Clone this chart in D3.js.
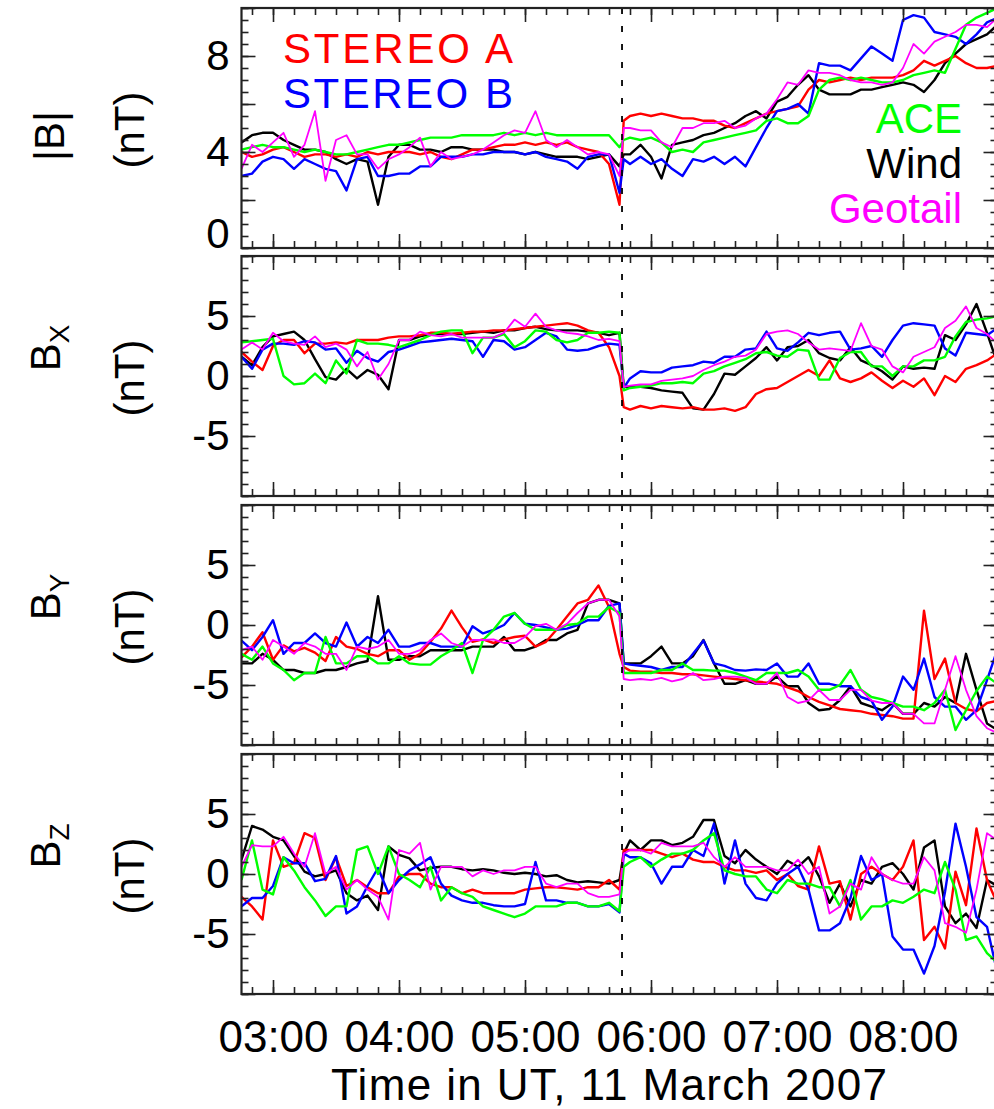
<!DOCTYPE html>
<html><head><meta charset="utf-8">
<script src="https://cdn.jsdelivr.net/npm/d3@7"></script>
<style>
body{margin:0;background:#fff}
svg{display:block}
text{font-family:"Liberation Sans",Arial,Helvetica,sans-serif}
</style>
</head><body>
<svg id="chart" width="994" height="1109"></svg>
<script>
// ---- sample times (minutes after 00:00 UT, 11 March 2007) ----
const timeMin = [
165,170,175,180,185,190,195,200,205,210,215,220,
225,230,235,240,245,250,255,260,265,270,275,280,
285,290,295,300,305,310,315,320,325,330,335,340,
345,347,
350,355,360,365,370,375,380,385,390,395,400,405,
410,415,420,425,430,435,440,445,450,455,460,465,
470,475,480,485,490,495,500,505,510,515,520,525];

const shockMin = 346.2;
const craftNames = ["STEREO A","STEREO B","ACE","Wind","Geotail"];
const craftColors = ["#ff0000","#0000ff","#00ff00","#000000","#ff00ff"];
const xTickHours = ["03:00","04:00","05:00","06:00","07:00","08:00"];

// ---- |B| (nT) ----
const bStA = [
4.0,3.8,3.9,4.1,4.2,4.0,3.8,3.9,3.9,3.8,3.9,3.8,
4.0,3.9,4.0,4.0,4.0,3.9,4.0,3.8,3.7,3.9,4.1,4.1,
4.2,4.3,4.3,4.4,4.3,4.4,4.3,4.4,4.2,4.1,4.0,3.5,
1.8,5.3,
5.5,5.6,5.5,5.6,5.5,5.4,5.4,5.3,5.3,5.1,5.0,5.2,
5.4,5.6,5.7,5.8,5.9,6.6,7.0,6.9,7.0,7.1,7.0,7.1,
7.1,7.1,7.2,7.4,7.8,7.6,7.8,8.0,7.7,7.5,7.5,7.6];
const bStB = [
3.0,3.1,3.6,3.8,3.7,3.3,3.7,3.5,3.3,3.2,2.4,3.7,
3.8,3.0,3.0,3.1,3.1,3.4,3.4,3.8,3.8,3.8,3.9,3.9,
4.0,4.0,4.0,3.9,4.0,3.8,3.7,3.6,3.3,3.8,3.9,3.9,
2.3,3.7,
3.5,3.8,3.5,3.7,3.3,3.0,3.7,3.6,3.8,3.5,3.8,3.4,
4.2,5.0,5.7,5.8,6.0,5.6,7.7,7.6,7.6,7.4,7.9,8.4,
8.1,7.8,9.5,9.7,9.6,9.0,8.9,8.8,8.5,8.9,9.4,9.6];
const bAce = [
4.1,4.2,4.3,4.2,4.2,4.1,4.0,4.1,4.0,3.9,3.9,4.0,
4.1,4.2,4.3,4.3,4.4,4.5,4.6,4.6,4.6,4.7,4.7,4.7,
4.7,4.8,4.7,4.8,4.7,4.8,4.7,4.7,4.7,4.7,4.7,4.7,
4.2,4.5,
4.6,4.5,4.6,4.4,4.0,4.1,4.0,4.4,4.5,4.6,4.7,4.8,
4.9,5.3,5.4,5.2,5.2,5.5,6.6,7.0,7.1,7.0,7.1,7.0,
6.9,6.9,7.0,7.2,7.3,7.4,7.3,8.3,9.3,9.6,9.8,10.0];
const bWind = [
4.4,4.7,4.8,4.8,4.5,4.3,4.1,4.1,4.0,3.7,3.5,3.7,
3.6,1.8,3.8,4.3,4.3,4.1,4.1,4.0,4.2,4.2,4.1,4.1,
4.1,4.0,4.0,3.9,4.0,3.9,3.8,3.8,3.8,3.7,3.8,3.9,
3.4,3.9,
3.9,4.3,3.8,2.9,4.3,4.4,4.5,4.7,4.8,5.0,5.2,5.5,
5.7,5.4,6.1,6.3,6.8,7.2,6.6,6.4,6.4,6.4,6.6,6.6,
6.7,6.8,6.9,6.8,6.5,7.0,7.7,8.1,8.5,8.7,8.9,9.3];
const bGeo = [
3.3,4.3,4.0,4.4,4.8,3.8,4.3,5.7,2.8,4.5,4.7,3.9,
3.9,3.3,3.7,3.9,4.2,4.6,3.4,4.0,3.7,3.8,3.9,4.1,
4.4,4.7,4.9,4.8,5.7,4.5,4.2,4.5,4.2,3.9,4.0,3.9,
3.0,5.0,
5.0,4.9,4.9,4.4,4.2,5.0,5.0,5.2,5.2,5.3,5.0,5.1,
5.4,5.6,6.2,6.9,6.8,7.4,7.3,7.3,7.2,7.0,6.9,6.9,
6.8,6.9,7.5,8.5,8.1,8.6,8.8,9.0,9.3,9.3,9.2,9.6];

// ---- Bx (nT) ----
const bxStA = [
2.0,1.2,0.5,2.5,3.0,3.0,1.9,2.7,2.7,2.8,2.7,3.0,
3.0,3.0,3.2,3.3,3.3,3.4,3.6,3.6,3.5,3.6,3.7,3.7,
3.8,3.8,3.9,4.0,4.1,4.2,4.3,4.4,4.2,3.8,3.6,2.4,
0.0,-2.6,
-2.8,-2.5,-2.7,-2.5,-2.6,-2.7,-2.6,-2.8,-2.8,-2.7,-2.9,-2.6,
-1.5,-1.1,-1.0,-0.5,0.0,0.5,0.0,1.3,-0.2,-0.5,-0.2,0.3,
-0.4,-1.0,-0.4,-0.9,-0.2,-1.6,0.0,-0.5,0.6,0.9,1.3,1.9];
const bxStB = [
1.6,0.6,2.2,2.7,2.7,2.6,2.9,2.8,2.2,2.3,1.1,2.1,
1.5,1.2,2.0,2.2,2.5,2.8,2.9,3.0,3.1,3.0,2.9,1.6,
3.0,2.9,2.2,2.4,3.0,3.6,3.3,2.2,2.1,2.2,2.5,2.7,
2.6,-1.0,
-0.2,0.4,0.3,0.3,0.7,0.8,0.9,1.2,1.1,1.6,1.6,2.2,
2.3,3.7,2.3,2.1,2.8,3.6,3.4,3.6,3.7,2.2,2.3,2.5,
1.6,3.0,4.2,4.4,4.3,4.2,2.3,1.7,3.6,3.5,3.4,4.0];
const bxAce = [
2.8,2.9,3.0,3.1,0.0,-0.7,-0.6,0.2,-0.6,1.3,0.2,3.0,
2.7,2.7,2.6,2.4,2.7,3.0,3.4,3.7,3.8,3.8,1.9,3.2,
3.2,3.5,2.4,2.9,3.8,3.7,3.0,2.8,3.0,3.6,3.6,3.7,
3.6,-1.2,
-1.0,-0.9,-0.8,-0.6,-0.6,-0.5,-0.6,0.2,0.4,0.8,1.1,1.4,
1.9,2.0,1.7,1.6,2.2,2.1,-0.3,-0.3,1.5,2.0,2.0,0.8,
0.8,0.0,0.8,0.8,1.3,1.3,1.6,3.3,4.5,4.7,4.8,5.0];
const bxWind = [
1.6,0.9,2.4,3.3,3.5,3.7,3.0,1.4,-0.1,-0.3,0.6,-0.2,
0.5,0.1,-1.1,3.0,3.0,3.3,3.5,3.5,3.5,3.5,3.6,3.7,
3.6,3.8,3.8,4.0,4.1,3.9,3.8,3.8,3.8,3.7,3.6,3.4,
3.6,-0.9,
-0.9,-0.9,-1.0,-1.2,-1.3,-1.4,-2.7,-2.8,-1.5,0.2,0.1,0.8,
1.5,2.4,1.3,2.4,2.5,3.0,1.9,1.5,1.3,2.4,1.3,0.9,
0.4,-0.3,0.8,0.6,0.7,0.6,3.4,3.0,4.3,6.0,3.6,1.0];
const bxGeo = [
2.2,2.8,2.2,3.6,2.9,2.7,2.6,3.3,2.4,2.7,2.2,0.8,
2.0,-0.3,1.0,3.0,3.0,3.7,3.4,3.3,3.5,3.2,3.2,3.2,
3.2,3.6,4.7,4.1,5.2,4.1,3.8,3.6,3.5,3.3,3.0,3.1,
2.9,-0.9,
-0.8,-0.7,-0.7,-0.4,-0.3,-0.2,0.0,0.5,0.9,1.2,1.6,1.7,
2.2,3.5,3.7,3.8,3.5,2.8,2.2,2.3,2.2,2.1,4.4,2.5,
2.2,0.8,0.3,1.6,2.0,2.4,4.0,4.6,5.8,4.0,3.5,2.7];

// ---- By (nT) ----
const byStA = [
-2.7,-1.8,-0.6,-2.9,-1.7,-2.2,-1.9,-2.3,-3.0,-1.0,-1.8,-2.0,
-2.4,-2.6,-2.1,-2.1,-2.9,-2.4,-1.4,-0.3,1.2,-0.2,-1.4,-1.2,
-1.5,-1.2,-1.0,-0.9,-1.8,-1.4,-0.4,0.7,1.8,2.1,3.3,1.5,
-2.4,-3.5,
-3.8,-3.9,-3.9,-4.0,-4.0,-4.1,-4.1,-4.2,-4.3,-4.4,-4.5,-4.6,
-4.7,-4.8,-4.9,-5.2,-5.5,-6.0,-6.4,-6.7,-7.0,-7.1,-7.2,-7.4,
-7.5,-7.6,-7.8,-7.8,1.2,-4.5,-2.8,-6.5,-7.0,-7.2,-6.5,-6.3];
const byStB = [
-1.3,-2.1,-1.0,0.4,-2.4,-1.5,-1.5,-0.7,-1.5,-1.8,0.2,-1.8,
-1.0,-1.5,-0.4,-1.8,-1.8,-1.5,-1.5,-1.8,-1.8,-1.8,-0.1,-0.7,
-0.4,0.0,1.0,0.1,0.0,-0.2,-0.4,-0.3,0.0,0.4,0.4,1.6,
1.8,-3.2,
-3.3,-3.4,-3.5,-3.75,-3.5,-3.5,-2.4,-1.3,-3.2,-3.4,-3.75,-3.8,
-3.7,-3.75,-3.2,-4.3,-4.3,-3.2,-4.9,-4.9,-5.1,-5.1,-6.0,-6.3,
-7.9,-6.8,-4.3,-5.4,-2.8,-6.0,-6.8,-6.8,-7.9,-7.1,-4.6,-2.0];
const byAce = [
-2.4,-2.9,-1.8,-3.2,-3.75,-4.6,-4.0,-4.0,-1.0,-3.2,-3.2,-2.6,
-2.6,-3.2,-3.2,-2.6,-3.2,-3.3,-3.3,-2.6,-2.1,-1.5,-4.0,-1.25,
-0.4,0.7,1.0,0.1,-0.4,-0.4,-0.4,0.0,0.1,0.7,0.7,1.5,
1.0,-4.0,
-4.0,-4.0,-4.0,-3.75,-3.75,-3.2,-3.75,-3.75,-3.8,-3.8,-4.0,-4.3,
-4.6,-4.0,-4.0,-4.0,-3.75,-4.3,-5.4,-5.4,-5.0,-3.75,-5.4,-6.0,
-6.2,-6.5,-6.8,-6.8,-7.1,-6.5,-5.4,-8.75,-7.1,-5.5,-4.3,-4.9];
const byWind = [
-3.2,-3.2,-2.4,-2.9,-3.75,-3.75,-4.0,-4.0,-3.75,-3.75,-3.5,-3.2,
-3.0,2.4,-2.9,-2.9,-2.6,-2.6,-2.1,-2.1,-2.1,-2.1,-1.8,-1.8,
-1.8,-1.0,-2.1,-2.1,-1.8,-1.25,-1.25,-0.7,-0.4,1.8,2.1,2.1,
1.8,-3.2,
-3.2,-3.2,-2.6,-1.8,-3.2,-3.2,-2.6,-1.25,-3.2,-4.9,-4.9,-4.6,
-4.9,-4.9,-4.3,-5.1,-5.1,-6.5,-7.1,-7.0,-6.25,-5.1,-6.5,-6.8,
-7.1,-6.5,-7.4,-7.4,-6.5,-6.8,-6.0,-6.5,-2.4,-5.4,-8.2,-8.75];
const byGeo = [
-2.1,-1.8,-2.9,-1.25,-1.8,-2.4,-1.5,-1.8,-2.4,-2.4,-3.75,-1.8,
-2.0,-1.8,-1.25,-2.4,-2.4,-2.1,-1.25,-0.7,-1.5,-1.8,-1.25,-1.25,
-1.2,-1.5,-1.5,-1.0,-0.1,0.1,-0.4,0.1,1.0,1.8,2.1,2.1,
0.7,-4.5,
-4.6,-4.5,-4.6,-4.4,-4.7,-4.5,-4.0,-4.6,-4.5,-4.3,-4.3,-4.4,
-4.9,-4.9,-4.0,-6.0,-6.5,-6.3,-5.4,-6.25,-6.25,-5.4,-5.4,-6.3,
-6.5,-6.5,-7.4,-7.4,-8.2,-8.2,-5.4,-2.6,-5.4,-7.6,-8.6,-9.0];

// ---- Bz (nT) ----
const bzStA = [
-1.9,-2.7,-3.8,2.8,0.6,0.9,3.4,3.0,-0.5,1.4,-1.0,-0.5,
-1.1,-1.6,-1.6,-0.2,0.0,0.0,-0.8,-1.1,-1.1,-1.6,-1.3,-1.6,
-1.6,-1.6,-1.6,-1.3,-1.2,-1.1,-1.1,-1.2,-1.3,-1.1,-1.1,-0.5,
-1.3,2.0,
2.0,2.0,2.0,1.7,1.4,1.7,1.2,1.0,1.0,0.6,0.3,0.3,
0.1,0.3,-0.5,0.0,-1.0,-1.3,2.3,-0.8,-0.6,-3.8,0.0,0.6,
0.0,-0.5,0.6,2.8,-5.5,-4.4,-6.2,0.2,-2.6,3.8,-0.5,-2.5];
const bzStB = [
-2.7,-2.0,-2.0,-1.0,1.4,0.9,0.9,-0.6,-0.4,1.5,-3.3,-2.7,
-1.0,0.5,-1.6,-0.5,0.3,0.8,1.4,-0.8,-1.8,-2.2,-2.4,-2.4,
-2.6,-2.7,-2.7,-2.5,1.0,-2.2,-2.2,-2.4,-2.4,-2.7,-2.7,-2.5,
-3.2,1.7,
1.4,1.4,0.9,-0.8,0.6,0.6,2.0,1.5,4.2,-0.8,2.8,-0.8,
-2.0,-2.2,-0.8,0.0,0.6,-1.3,-4.7,-4.7,-4.1,-2.0,1.5,-0.5,
0.0,-5.2,-6.3,-6.3,-8.3,-6.0,-1.5,4.2,0.6,-3.6,-4.4,-8.3];
const bzAce = [
-0.5,2.8,-1.3,-1.7,1.4,0.3,-1.1,-2.2,-3.5,-2.7,-2.7,2.0,
2.3,0.0,2.3,0.0,-0.5,-1.1,0.6,-2.2,-1.1,-1.6,-1.9,-2.7,
-3.0,-3.3,-3.6,-3.3,-2.7,-2.7,-2.7,-2.4,-2.4,-2.7,-2.7,-2.4,
-3.1,0.6,
1.0,1.4,0.6,1.2,1.7,1.7,2.0,2.8,3.4,0.3,0.0,-0.2,
-0.2,-1.3,-1.6,-0.5,-0.8,-0.8,-1.1,-1.1,-2.7,-0.5,-3.8,-2.7,
-2.7,-2.2,-2.4,-1.9,-1.3,-1.6,1.0,-1.3,-5.5,-5.2,-6.6,-7.4];
const bzWind = [
1.2,4.0,3.7,3.1,2.8,1.5,0.2,-0.2,0.0,0.3,-1.6,-2.2,
-1.8,-3.0,2.3,1.6,1.3,0.3,0.5,0.6,0.6,0.4,0.3,0.4,
0.3,0.1,0.0,0.1,0.0,-0.2,-0.1,-0.5,-0.7,-0.6,-0.7,-0.8,
-0.5,1.7,
2.8,2.0,2.8,2.8,2.4,2.6,3.1,4.5,4.5,1.5,0.9,2.0,
1.2,0.6,0.0,1.1,0.6,1.4,-0.2,-2.4,-0.8,-2.7,-0.5,-0.8,
0.6,0.9,0.0,-1.3,2.2,2.8,-2.7,-4.1,-3.3,-4.5,-0.5,-1.0];
const bzGeo = [
0.6,2.4,2.3,2.3,3.1,1.7,0.6,3.4,0.0,0.6,-1.3,-0.5,
-1.3,-1.9,-3.8,2.0,1.7,2.6,-1.3,0.6,0.6,0.6,-0.2,0.3,
0.0,0.3,0.3,0.6,0.6,-0.8,-1.1,-0.8,-0.8,-1.6,-1.9,-1.9,
-1.7,1.7,
2.0,2.0,1.7,2.6,2.3,2.3,2.3,2.6,1.4,0.6,1.4,0.6,
0.6,0.6,0.3,0.3,1.2,0.0,0.6,-3.3,-2.7,-0.8,-1.3,1.4,
0.0,-0.5,-0.8,-0.8,1.4,0.3,-4.1,-4.4,-4.9,-1.3,3.4,2.8];

// ---- layout ----
const svg = d3.select("#chart");
const plotLeft = 241.5, plotRight = 997.5;
const panelTops = [8, 256, 505, 754], panelH = 240;
const FONT = '"Liberation Sans",Arial,Helvetica,sans-serif';
const toDate = m => new Date(Date.UTC(2007, 2, 11, 0, 0, Math.round(m * 60)));

const x = d3.scaleUtc().domain([toDate(165), toDate(525)]).range([plotLeft, plotRight]);
const majorX = x.ticks(d3.utcHour.every(1));
const minorX = x.ticks(d3.utcMinute.every(10));

const panels = [
  {name:"|B|", sub:null, domain:[0,10], major:[0,2,4,6,8,10], minorStep:0.5, labels:[0,4,8],
   data:[bWind,bStA,bStB,bAce,bGeo], colorIdx:[3,0,1,2,4]},
  {name:"B", sub:"X", domain:[-10,10], major:[-10,-5,0,5,10], minorStep:1, labels:[-5,0,5],
   data:[bxWind,bxStA,bxStB,bxAce,bxGeo], colorIdx:[3,0,1,2,4]},
  {name:"B", sub:"Y", domain:[-10,10], major:[-10,-5,0,5,10], minorStep:1, labels:[-5,0,5],
   data:[byWind,byStA,byStB,byAce,byGeo], colorIdx:[3,0,1,2,4]},
  {name:"B", sub:"Z", domain:[-10,10], major:[-10,-5,0,5,10], minorStep:1, labels:[-5,0,5],
   data:[bzWind,bzStA,bzStB,bzAce,bzGeo], colorIdx:[3,0,1,2,4]}
];

const styleAxis = g => {
  g.select(".domain").remove();
  g.selectAll(".tick line").attr("stroke","#222").attr("stroke-width",1.6);
  g.selectAll("text").attr("fill","#000");
  g.attr("font-family", FONT);
};

panels.forEach((p, pi) => {
  const top = panelTops[pi], bottom = top + panelH;
  const y = d3.scaleLinear().domain(p.domain).range([bottom, top]);
  const minorY = d3.range(p.domain[0], p.domain[1] + 1e-9, p.minorStep);
  const g = svg.append("g");

  const clipId = "clip" + pi;
  svg.append("clipPath").attr("id", clipId)
    .append("rect").attr("x", plotLeft).attr("y", top).attr("width", plotRight - plotLeft).attr("height", panelH);

  // traces
  const line = d3.line().x((d,i) => x(toDate(timeMin[i]))).y(d => y(d));
  const tr = g.append("g").attr("clip-path", `url(#${clipId})`);
  p.data.forEach((arr, k) => {
    const ci = p.colorIdx[k];
    tr.append("path").datum(arr)
      .attr("d", line)
      .attr("fill","none")
      .attr("stroke", craftColors[ci])
      .attr("stroke-width", ci === 4 ? 1.8 : 2.4)
      .attr("stroke-linejoin","round");
  });

  // shock line
  const xs = x(toDate(shockMin));
  g.append("line")
    .attr("x1", xs).attr("x2", xs)
    .attr("y1", top).attr("y2", bottom)
    .attr("stroke","#000").attr("stroke-width",1.8).attr("stroke-dasharray","6,12");

  // axes
  const gl = g.append("g").attr("transform",`translate(${plotLeft},0)`)
    .call(d3.axisLeft(y).tickValues(p.major).tickSize(-14).tickPadding(12)
      .tickFormat(d => p.labels.includes(d) ? String(d) : ""));
  styleAxis(gl);
  gl.selectAll("text").attr("font-size", 42);
  if (pi === 0) gl.selectAll(".tick text").filter(d => d === 0).attr("y", -14);
  const glm = g.append("g").attr("transform",`translate(${plotLeft},0)`)
    .call(d3.axisLeft(y).tickValues(minorY).tickSize(-7).tickFormat(""));
  styleAxis(glm);
  const gr = g.append("g").attr("transform",`translate(${plotRight},0)`)
    .call(d3.axisRight(y).tickValues(p.major).tickSize(-14).tickFormat(""));
  styleAxis(gr);
  const grm = g.append("g").attr("transform",`translate(${plotRight},0)`)
    .call(d3.axisRight(y).tickValues(minorY).tickSize(-7).tickFormat(""));
  styleAxis(grm);
  const gt = g.append("g").attr("transform",`translate(0,${top})`)
    .call(d3.axisTop(x).tickValues(majorX).tickSize(-14).tickFormat(""));
  styleAxis(gt);
  const gtm = g.append("g").attr("transform",`translate(0,${top})`)
    .call(d3.axisTop(x).tickValues(minorX).tickSize(-7).tickFormat(""));
  styleAxis(gtm);
  const isLast = pi === panels.length - 1;
  const gb = g.append("g").attr("transform",`translate(0,${bottom})`)
    .call(d3.axisBottom(x).tickValues(majorX).tickSize(-14).tickPadding(27)
      .tickFormat((d,i) => isLast ? xTickHours[i] : ""));
  styleAxis(gb);
  gb.selectAll("text").attr("font-size", 44);
  const gbm = g.append("g").attr("transform",`translate(0,${bottom})`)
    .call(d3.axisBottom(x).tickValues(minorX).tickSize(-7).tickFormat(""));
  styleAxis(gbm);

  // frame
  g.append("rect").attr("x", plotLeft).attr("y", top)
    .attr("width", plotRight - plotLeft).attr("height", panelH)
    .attr("fill","none").attr("stroke","#222").attr("stroke-width",2.2);

  // y titles
  if (p.sub === null) {
    g.append("text").attr("transform",`translate(64,${top+128}) rotate(-90)`)
      .attr("text-anchor","middle").attr("font-size",42).text(p.name);
  } else {
    const t = g.append("text").attr("transform",`translate(60,${top+92}) rotate(-90)`)
      .attr("text-anchor","middle").attr("font-size",42);
    t.append("tspan").text(p.name);
    t.append("tspan").attr("font-size",28).attr("dy",9).text(p.sub);
  }
  g.append("text").attr("transform",`translate(144,${top+122}) rotate(-90)`)
    .attr("text-anchor","middle").attr("font-size",42).text("(nT)");
});

// legend
const legend = [
  {i:0, x:283, y:63, anchor:"start"},
  {i:1, x:283, y:108, anchor:"start"},
  {i:2, x:962, y:133, anchor:"end"},
  {i:3, x:962, y:178, anchor:"end"},
  {i:4, x:962, y:223, anchor:"end"}
];
svg.append("g").selectAll("text").data(legend).join("text")
  .attr("x", d => d.x).attr("y", d => d.y).attr("text-anchor", d => d.anchor)
  .attr("font-size", 42).attr("fill", d => craftColors[d.i])
  .attr("textLength", d => d.i < 2 ? 230 : null)
  .text(d => craftNames[d.i]);

// x title
svg.append("text").attr("x", 609).attr("y", 1100).attr("text-anchor","middle")
  .attr("font-size", 44).attr("textLength", 556).text("Time in UT, 11 March 2007");
</script>
</body></html>
